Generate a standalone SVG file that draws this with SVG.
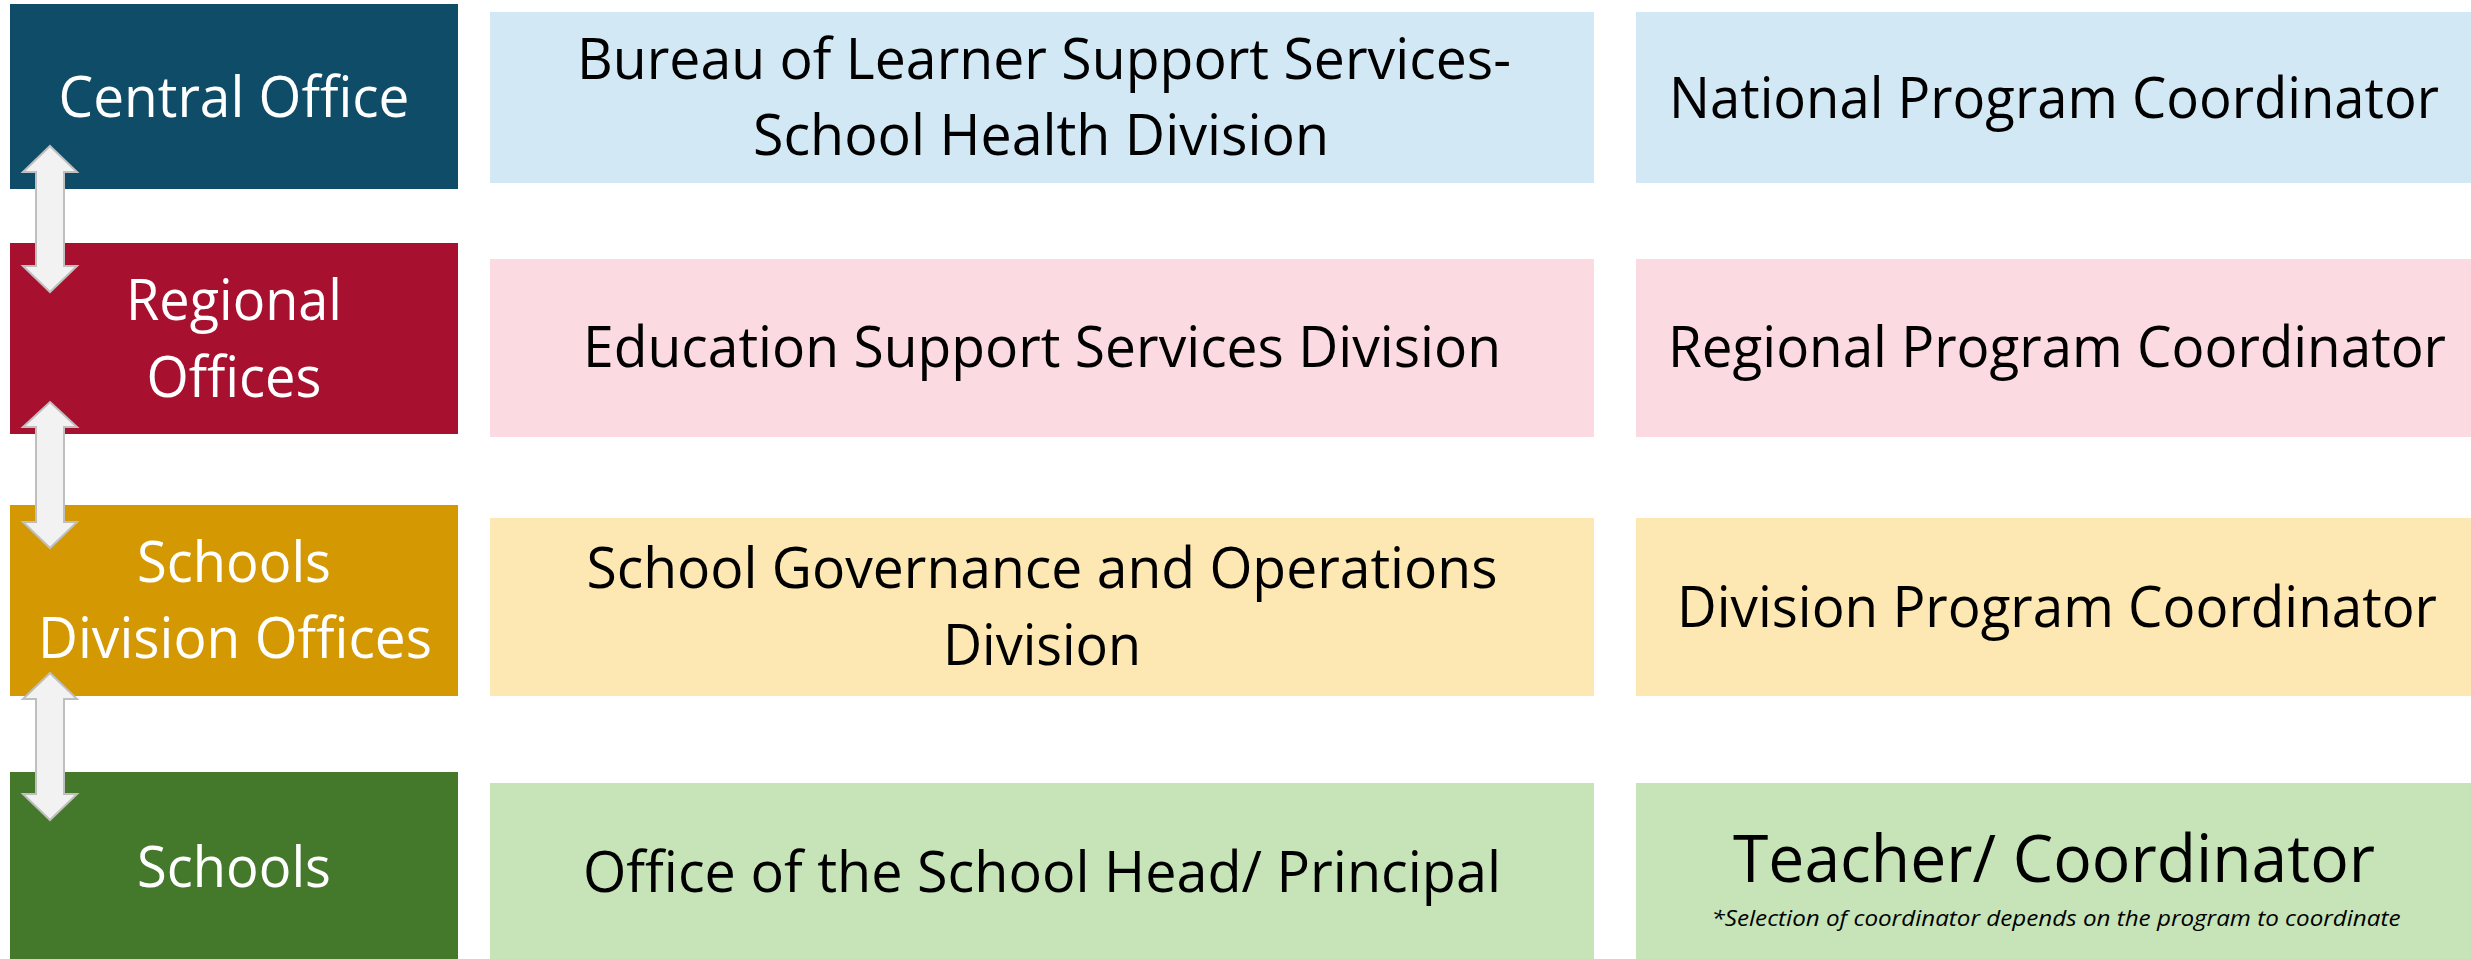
<svg xmlns="http://www.w3.org/2000/svg" width="2471" height="959" viewBox="0 0 2471 959">
<style>
text{font-family:"Open Sans","Noto Sans","Liberation Sans",sans-serif;text-anchor:middle}
.w{fill:#ffffff;font-size:57px}
.k{fill:#000000;font-size:56px}
.big{fill:#000000;font-size:66px}
.note{fill:#000000;font-size:21px;font-style:italic}
.arrow{fill:#f2f2f2;stroke:#bfbfbf;stroke-width:2;stroke-linejoin:miter}
</style>
<rect width="2471" height="959" fill="#ffffff"/>
<g id="central-office">
<rect x="10" y="4" width="448" height="185" fill="#0f4c67"/>
<text class="w" x="234" y="117" textLength="351" lengthAdjust="spacingAndGlyphs">Central Office</text>
</g>
<g id="regional-offices">
<rect x="10" y="243" width="448" height="191" fill="#a8102f"/>
<text class="w" x="234" y="320" textLength="216" lengthAdjust="spacingAndGlyphs">Regional</text>
<text class="w" x="234" y="397" textLength="175" lengthAdjust="spacingAndGlyphs">Offices</text>
</g>
<g id="schools-division-offices">
<rect x="10" y="505" width="448" height="191" fill="#d49902"/>
<text class="w" x="234" y="582" textLength="194" lengthAdjust="spacingAndGlyphs">Schools</text>
<text class="w" x="235" y="658" textLength="394" lengthAdjust="spacingAndGlyphs">Division Offices</text>
</g>
<g id="schools">
<rect x="10" y="772" width="448" height="187" fill="#44792c"/>
<text class="w" x="234" y="887" textLength="194" lengthAdjust="spacingAndGlyphs">Schools</text>
</g>
<g id="bureau">
<rect x="490" y="12" width="1104" height="171" fill="#d2e9f5"/>
<text class="k" x="1044" y="79" textLength="934" lengthAdjust="spacingAndGlyphs">Bureau of Learner Support Services-</text>
<text class="k" x="1041" y="155" textLength="576" lengthAdjust="spacingAndGlyphs">School Health Division</text>
</g>
<g id="essd">
<rect x="490" y="259" width="1104" height="178" fill="#fbdae1"/>
<text class="k" x="1042" y="367" textLength="918" lengthAdjust="spacingAndGlyphs">Education Support Services Division</text>
</g>
<g id="sgod">
<rect x="490" y="518" width="1104" height="178" fill="#fde7b2"/>
<text class="k" x="1042" y="588" textLength="911" lengthAdjust="spacingAndGlyphs">School Governance and Operations</text>
<text class="k" x="1042" y="665" textLength="198" lengthAdjust="spacingAndGlyphs">Division</text>
</g>
<g id="school-head">
<rect x="490" y="783" width="1104" height="176" fill="#c6e4b7"/>
<text class="k" x="1042" y="892" textLength="918" lengthAdjust="spacingAndGlyphs">Office of the School Head/ Principal</text>
</g>
<g id="national-coordinator">
<rect x="1636" y="12" width="835" height="171" fill="#d2e9f5"/>
<text class="k" x="2054" y="118" textLength="770" lengthAdjust="spacingAndGlyphs">National Program Coordinator</text>
</g>
<g id="regional-coordinator">
<rect x="1636" y="259" width="835" height="178" fill="#fbdae1"/>
<text class="k" x="2057" y="367" textLength="778" lengthAdjust="spacingAndGlyphs">Regional Program Coordinator</text>
</g>
<g id="division-coordinator">
<rect x="1636" y="518" width="835" height="178" fill="#fde7b2"/>
<text class="k" x="2057" y="627" textLength="760" lengthAdjust="spacingAndGlyphs">Division Program Coordinator</text>
</g>
<g id="teacher-coordinator">
<rect x="1636" y="783" width="835" height="176" fill="#c6e4b7"/>
<text class="big" x="2054" y="882" textLength="642" lengthAdjust="spacingAndGlyphs">Teacher/ Coordinator</text>
<text class="note" x="2056" y="926" textLength="689" lengthAdjust="spacingAndGlyphs">*Selection of coordinator depends on the program to coordinate</text>
</g>
<g id="connectors">
<polygon class="arrow" points="50,146 77,172 64,172 64,266 77,266 50,292 23,266 36,266 36,172 23,172"/>
<polygon class="arrow" points="50,402 77,427 64,427 64,522 77,522 50,548 23,522 36,522 36,427 23,427"/>
<polygon class="arrow" points="50,673 77,699 64,699 64,794 77,794 50,820 23,794 36,794 36,699 23,699"/>
</g>
</svg>
